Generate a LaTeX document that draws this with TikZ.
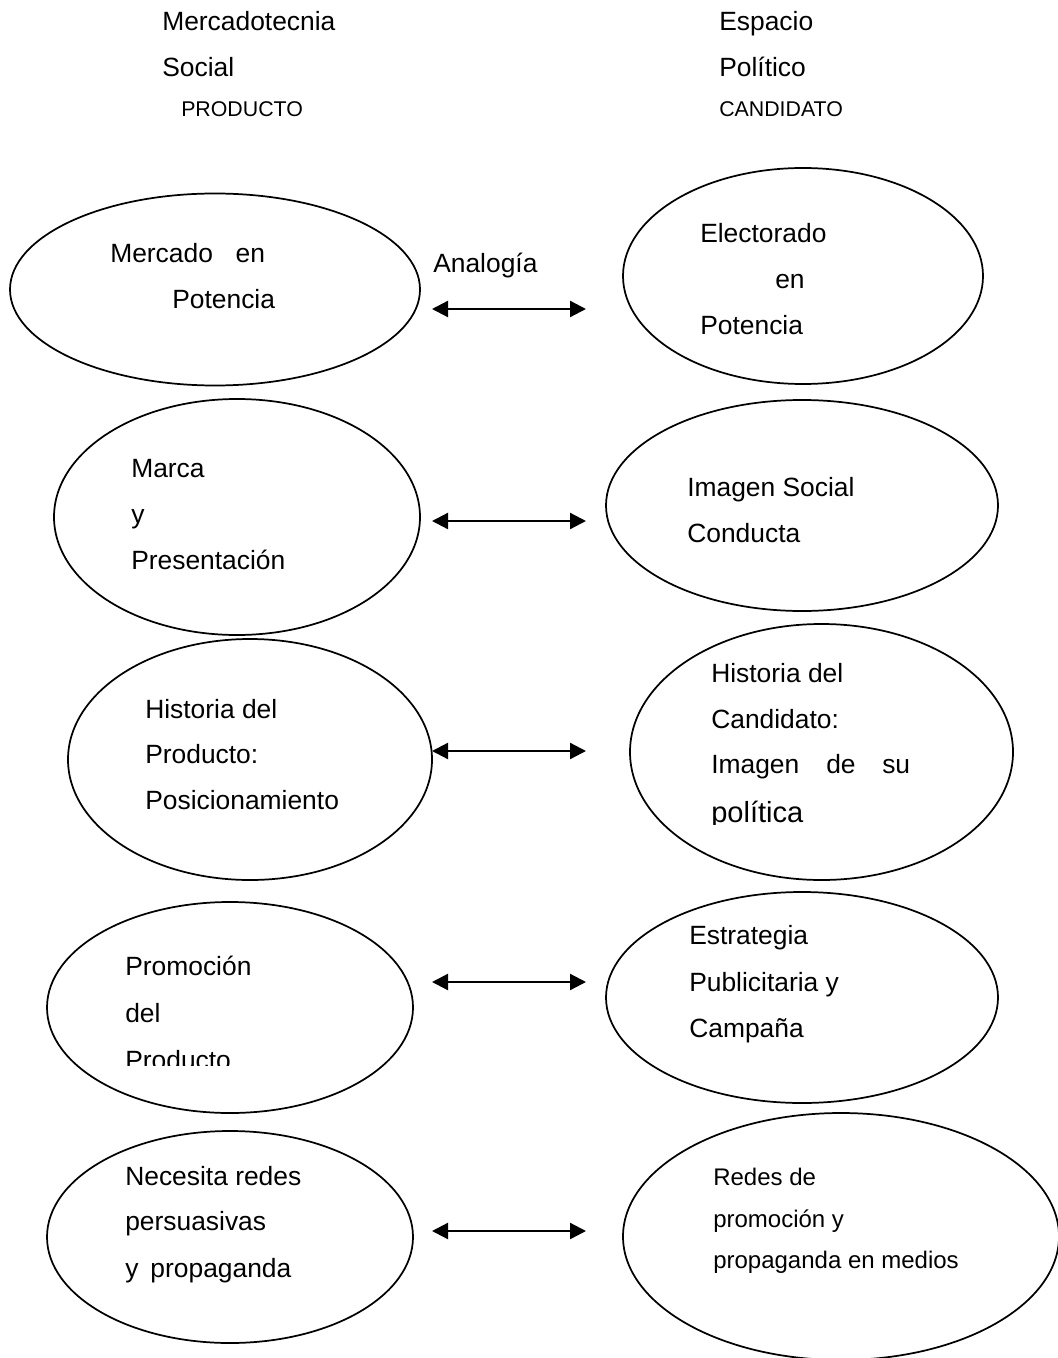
\documentclass[tikz,border=0pt]{standalone}
\usepackage{fontspec}
\setmainfont{Liberation Sans}
\usetikzlibrary{shapes.geometric,arrows.meta}
\tikzset{
  ell/.style={ellipse, draw, line width=1.3pt, inner sep=0pt, outer sep=0pt},
  big/.style={anchor=base west, inner sep=0pt, font=\fontsize{19.8}{24}\selectfont},
  small/.style={anchor=base west, inner sep=0pt, font=\fontsize{16}{19}\selectfont},
  mid/.style={anchor=base west, inner sep=0pt, font=\fontsize{18}{22}\selectfont},
  large/.style={anchor=base west, inner sep=0pt, font=\fontsize{21.8}{26}\selectfont},
  dbl/.style={line width=1.7pt, {Triangle[length=12pt,width=12pt]}-{Triangle[length=12pt,width=12pt]}}
}
\newcommand{\ellnode}[6]{\node[ell, minimum width=#4*1.5pt, minimum height=#5*1.5pt] (#1) at (#2,#3) {#6};}
\begin{document}
\begin{tikzpicture}[x=0.75pt,y=-0.75pt]
\useasboundingbox (0,0) rectangle (1057,1358);
% headers
\node[big] (h1) at (162,31) {Mercadotecnia};
\node[big] (h2) at (162,77) {Social};
\node[small] (h3) at (181,117) {PRODUCTO};
\node[big] (h4) at (719,31) {Espacio};
\node[big] (h5) at (719,77) {Político};
\node[small] (h6) at (719,117) {CANDIDATO};
% ellipses
\ellnode{L1}{215}{289.5}{205}{96}{}
\ellnode{R1}{803}{276}{180}{108}{}
\ellnode{L2}{237}{517}{183}{118}{}
\ellnode{R2}{802}{505.5}{196}{105.5}{}
\ellnode{L3}{250}{759.5}{182}{120.5}{}
\ellnode{R3}{821.5}{752}{191.5}{128}{}
\ellnode{L4}{230}{1007.5}{183}{105.5}{}
\ellnode{R4}{802}{997.5}{196}{105.5}{}
\ellnode{L5}{230}{1237}{183}{106}{}
\ellnode{R5}{841}{1236.5}{218}{123.5}{}
% arrows
\coordinate (a1l) at (432,309); \coordinate (a1r) at (586,309);
\coordinate (a2l) at (432,521); \coordinate (a2r) at (586,521);
\coordinate (a3l) at (432,751); \coordinate (a3r) at (586,751);
\coordinate (a4l) at (432,982); \coordinate (a4r) at (586,982);
\coordinate (a5l) at (432,1231); \coordinate (a5r) at (586,1231);
\draw[dbl] (a1l) -- (a1r);
\draw[dbl] (a2l) -- (a2r);
\draw[dbl] (a3l) -- (a3r);
\draw[dbl] (a4l) -- (a4r);
\draw[dbl] (a5l) -- (a5r);
% row 1
\node[big] (t11) at (110,263) {Mercado\hspace{17pt}en};
\node[big] (t12) at (172,309) {Potencia};
\node[big] (an) at (433,273) {Analogía};
\node[big] (t13) at (700,243) {Electorado};
\node[big] (t14) at (775,289) {en};
\node[big] (t15) at (700,335) {Potencia};
% row 2
\node[big] (t21) at (131,477) {Marca};
\node[big] (t22) at (131,523) {y};
\node[big] (t23) at (131,569) {Presentación};
\node[big] (t24) at (687,496) {Imagen Social};
\node[big] (t25) at (687,542) {Conducta};
% row 3
\node[big] (t31) at (145,718) {Historia del};
\node[big] (t32) at (145,763) {Producto:};
\node[big] (t33) at (145,809) {Posicionamiento};
\node[big] (t34) at (711,682) {Historia del};
\node[big] (t35) at (711,728) {Candidato:};
\node[big] (t36) at (711,773) {Imagen};
\node[big] (t37) at (826,773) {de};
\node[big] (t38) at (882,773) {su};
\begin{scope}
\clip (690,780) rectangle (900,824);
\node[large] (t39) at (711,822) {política};
\end{scope}
% row 4
\node[big] (t41) at (125,975) {Promoción};
\node[big] (t42) at (125,1022) {del};
\begin{scope}
\clip (110,1030) rectangle (300,1065);
\node[big] (t43) at (125,1069) {Producto};
\end{scope}
\node[big] (t44) at (689,944) {Estrategia};
\node[big] (t45) at (689,991) {Publicitaria y};
\node[big] (t46) at (689,1037) {Campaña};
% row 5
\node[big] (t51) at (125,1185) {Necesita redes};
\node[big] (t52) at (125,1230) {persuasivas};
\node[big] (t53) at (125,1277) {y\hspace{9pt}propaganda};
\node[mid] (t54) at (713,1185) {Redes de};
\node[mid] (t55) at (713,1227) {promoción y};
\node[mid] (t56) at (713,1268) {propaganda en medios};
\end{tikzpicture}
\end{document}
